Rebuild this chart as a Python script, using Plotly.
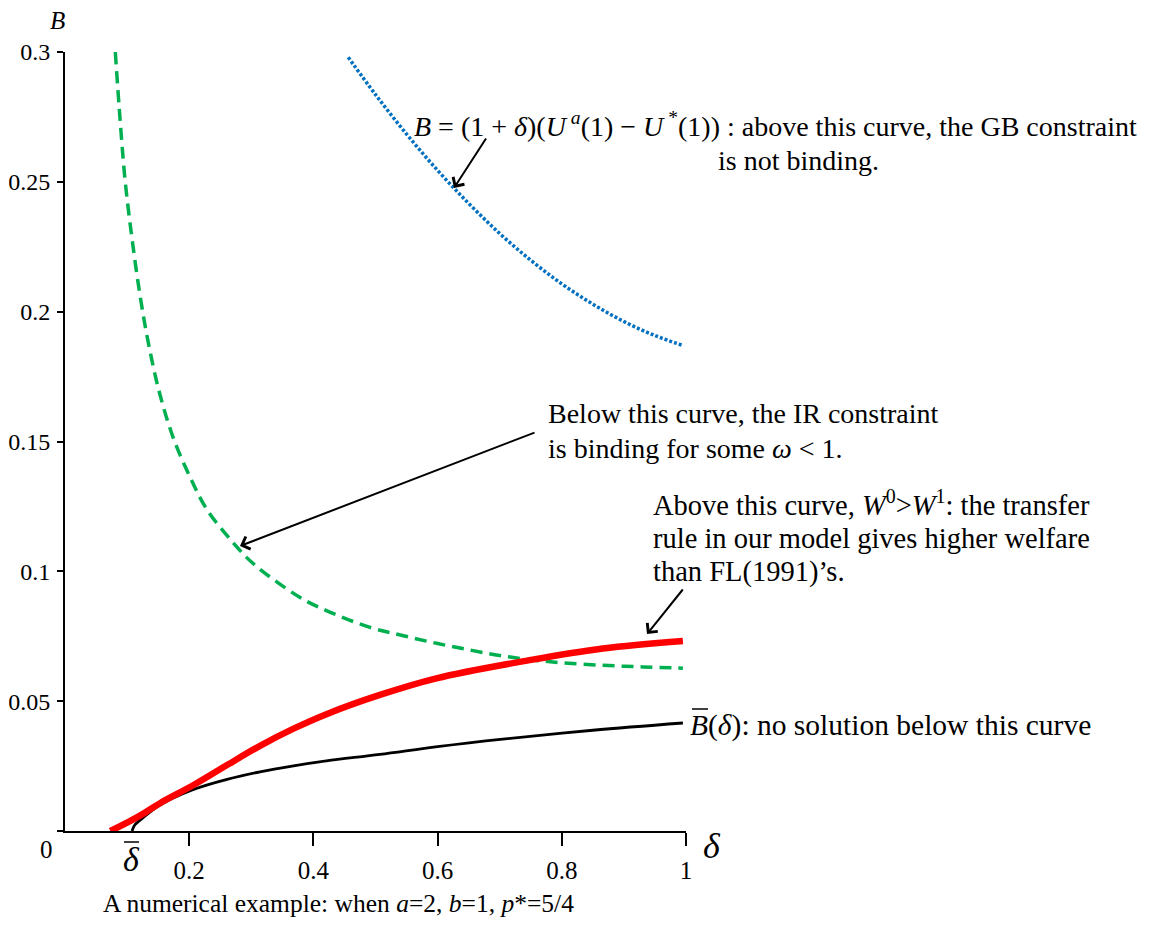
import plotly.graph_objects as go

# ---------------- data ----------------
green_x = [0.081, 0.089, 0.097, 0.108, 0.121, 0.135, 0.153, 0.175, 0.202, 0.228,
           0.271, 0.303, 0.378, 0.42, 0.49, 0.545, 0.60, 0.652, 0.70, 0.748,
           0.80, 0.866, 0.93, 0.995]
green_y = [0.300, 0.273, 0.250, 0.228, 0.206, 0.187, 0.168, 0.151, 0.136, 0.124,
           0.111, 0.103, 0.090, 0.085, 0.0785, 0.0752, 0.0722, 0.0697, 0.0676, 0.066,
           0.0648, 0.0638, 0.0632, 0.0627]

blue_x = [0.456, 0.50, 0.55, 0.60, 0.65, 0.70, 0.75, 0.80, 0.85, 0.90, 0.95, 0.996]
blue_y = [0.298, 0.2836, 0.2684, 0.2544, 0.2417, 0.2301, 0.2198, 0.2107, 0.2029,
          0.1962, 0.1908, 0.1869]

red_x = [0.073, 0.10, 0.127, 0.153, 0.207, 0.261, 0.314, 0.368, 0.421, 0.507,
         0.598, 0.748, 0.866, 0.995]
red_y = [0.0, 0.0032, 0.0068, 0.0107, 0.0177, 0.0254, 0.0328, 0.0394, 0.0450,
         0.0524, 0.0588, 0.0658, 0.0703, 0.0732]

black_x = [0.108, 0.112, 0.121, 0.153, 0.207, 0.261, 0.314, 0.368, 0.421, 0.507,
           0.60, 0.705, 0.85, 0.995]
black_y = [0.0, 0.0022, 0.0042, 0.010, 0.016, 0.0199, 0.0228, 0.0251, 0.027,
           0.0295, 0.0325, 0.0354, 0.0388, 0.0416]

x_ticks = [0.2, 0.4, 0.6, 0.8, 1]
x_ticktext = ["0.2", "0.4", "0.6", "0.8", "1"]
y_ticks = [0, 0.05, 0.1, 0.15, 0.2, 0.25, 0.3]
y_ticktext = ["", "0.05", "0.1", "0.15", "0.2", "0.25", "0.3"]

# ---------------- layout geometry (page pixels) ----------------
W, H = 1150, 932
X0, X1 = 65, 686             # page x of delta = 0 and delta = 1
Y0, Y1 = 831, 52             # page y of B = 0 and B = 0.3
ML = X0
MT = Y1
PW = X1 - X0
PH = Y0 - Y1
MR = W - ML - PW
MB = H - MT - PH
FONT = "Liberation Serif"


def px(xp):
    return (xp - X0) / PW


def py(yp):
    return (Y0 - yp) / PH


fig = go.Figure()
fig.add_trace(go.Scatter(x=green_x, y=green_y, mode="lines",
                         line=dict(color="#00B050", width=3.5, dash="12px,7px",
                                   shape="spline", smoothing=1.0),
                         cliponaxis=False, showlegend=False, hoverinfo="skip"))
fig.add_trace(go.Scatter(x=blue_x, y=blue_y, mode="lines",
                         line=dict(color="#0070C0", width=3.5, dash="3px,2px",
                                   shape="spline", smoothing=1.0),
                         cliponaxis=False, showlegend=False, hoverinfo="skip"))
fig.add_trace(go.Scatter(x=black_x, y=black_y, mode="lines",
                         line=dict(color="black", width=2.8,
                                   shape="spline", smoothing=1.0),
                         cliponaxis=False, showlegend=False, hoverinfo="skip"))
fig.add_trace(go.Scatter(x=red_x, y=red_y, mode="lines",
                         line=dict(color="#FF0000", width=6.5,
                                   shape="spline", smoothing=1.0),
                         cliponaxis=False, showlegend=False, hoverinfo="skip"))

ann = []


def text(xp, yp, s, size=28, xanchor="left"):
    ann.append(dict(x=px(xp), y=py(yp), xref="paper", yref="paper", text=s,
                    showarrow=False, xanchor=xanchor, yanchor="middle",
                    borderpad=0,
                    font=dict(family=FONT, size=size, color="black")))


def arrow(tail, head):
    ann.append(dict(x=px(head[0]), y=py(head[1]), xref="paper", yref="paper",
                    ax=tail[0] - head[0], ay=tail[1] - head[1], text="",
                    showarrow=True, arrowhead=4, arrowsize=1.3, arrowwidth=2,
                    arrowcolor="black", standoff=0, startstandoff=0))


# labels
text(57, 21, "<i>B</i>", size=25, xanchor="center")
text(46, 849, "0", size=25, xanchor="center")
text(712, 846, "<i>δ</i>", size=36, xanchor="center")
text(131, 860, "<i>δ</i>", size=34, xanchor="center")

text(413, 124, "<i>B</i> = (1 + <i>δ</i>)(<i>U</i><sup> <i>a</i></sup>(1) − <i>U</i><sup> *</sup>(1))"
               " : above this curve, the GB constraint")
text(717, 160, "is not binding.")

text(547, 413, "Below this curve, the IR constraint")
text(547, 448, "is binding for some <i>ω</i> &lt; 1.")

text(652, 503, "Above this curve, <i>W</i><sup>0</sup>&gt;<i>W</i><sup>1</sup>: the transfer", size=28.5)
text(652, 538, "rule in our model gives higher welfare", size=28.5)
text(652, 572, "than FL(1991)’s.", size=28.5)

text(689, 725, "<i>B</i>(<i>δ</i>): no solution below this curve", size=29.5)

text(338, 903, "A numerical example: when <i>a</i>=2, <i>b</i>=1, <i>p</i>*=5/4",
     size=25.5, xanchor="center")

# arrows
arrow((487, 137), (454, 188))
arrow((536, 432), (240, 546))
arrow((684, 588), (647, 634))

# overbars
shapes = [
    dict(type="line", xref="paper", yref="paper", x0=px(124), x1=px(139),
         y0=py(842), y1=py(842), line=dict(color="black", width=1.5)),
    dict(type="line", xref="paper", yref="paper", x0=px(692), x1=px(708),
         y0=py(709), y1=py(709), line=dict(color="black", width=1.5)),
]

fig.update_layout(
    width=W, height=H,
    margin=dict(l=ML, r=MR, t=MT, b=MB, pad=0),
    paper_bgcolor="white", plot_bgcolor="white",
    font=dict(family=FONT, size=24, color="black"),
    annotations=ann, shapes=shapes, hovermode=False,
    xaxis=dict(range=[0, 1], tickvals=x_ticks, ticktext=x_ticktext,
               showgrid=False, zeroline=False, showline=True, linecolor="black",
               linewidth=2, ticks="outside", ticklen=13, tickwidth=1.5,
               tickcolor="black", ticklabelstandoff=3, automargin=False,
               tickfont=dict(family=FONT, size=25)),
    yaxis=dict(range=[0, 0.3], tickvals=y_ticks, ticktext=y_ticktext,
               showgrid=False, zeroline=False, showline=True, linecolor="black",
               linewidth=2, ticks="outside", ticklen=6, tickwidth=1.5,
               tickcolor="black", ticklabelstandoff=2, automargin=False,
               tickfont=dict(family=FONT, size=24)),
)

fig.write_html("out.html", config={"displayModeBar": False},
               post_script="document.body.style.margin='0px';")
